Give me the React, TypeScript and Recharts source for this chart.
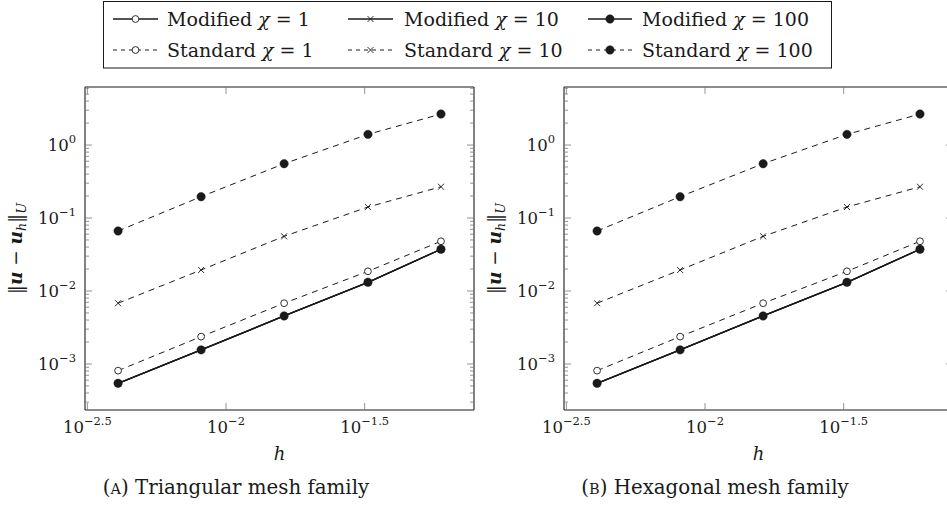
import { LineChart, Line, XAxis, YAxis } from 'recharts';

// mesh sizes (same for both panels)
const hValues = [0.00408, 0.00813, 0.0162, 0.0325, 0.0596];

// error norms ||u - u_h||_U
const modifiedChi1 = [0.000543, 0.00156, 0.00455, 0.01315, 0.0373];
const modifiedChi10 = [0.000543, 0.00156, 0.00455, 0.01315, 0.0373];
const modifiedChi100 = [0.000543, 0.00156, 0.00455, 0.01315, 0.0373];
const standardChi1 = [0.00081, 0.00237, 0.0068, 0.0186, 0.048];
const standardChi10 = [0.0068, 0.0194, 0.0561, 0.1415, 0.268];
const standardChi100 = [0.0664, 0.196, 0.555, 1.4, 2.66];

const chiValues = [1, 10, 100];
const methodNames = ['Modified', 'Standard'];

const xTickExponents = [-2.5, -2, -1.5];
const xTickLabels = ['−2.5', '−2', '−1.5'];
const yMajorExponents = [-3, -2, -1, 0];
const yTickLabels = ['−3', '−2', '−1', '0'];

const xDomain = [0.0031, 0.0784];
const yDomain = [0.000234, 6.24];

const INK = '#1a1a1a';
const TICK = '#777';
const SERIF = { fontFamily: "'DejaVu Serif', 'Liberation Serif', serif" };

const rows = hValues.map((h, i) => ({
  h,
  s1: standardChi1[i],
  s10: standardChi10[i],
  s100: standardChi100[i],
  m1: modifiedChi1[i],
  m10: modifiedChi10[i],
  m100: modifiedChi100[i],
}));

const xTicks = xTickExponents.map((e) => Math.pow(10, e));
const yTicks: number[] = yMajorExponents.map((e) => Math.pow(10, e));
for (let e = -4; e <= 0; e++) {
  for (let k = 2; k <= 9; k++) {
    const v = k * Math.pow(10, e);
    if (v > yDomain[0] && v < yDomain[1]) yTicks.push(v);
  }
}
yTicks.sort((a, b) => a - b);

type Marker = 'open' | 'cross' | 'filled';

function drawMarker(kind: Marker, cx: number, cy: number, key?: string) {
  if (kind === 'filled') {
    return <circle key={key} cx={cx} cy={cy} r={4.2} fill={INK} stroke={INK} strokeWidth={0.5} />;
  }
  if (kind === 'open') {
    return <circle key={key} cx={cx} cy={cy} r={3.4} fill="#fff" stroke={INK} strokeWidth={0.9} />;
  }
  const s = 3;
  return (
    <g key={key}>
      <line x1={cx - s} y1={cy - s} x2={cx + s} y2={cy + s} stroke={INK} strokeWidth={0.9} />
      <line x1={cx - s} y1={cy + s} x2={cx + s} y2={cy - s} stroke={INK} strokeWidth={0.9} />
    </g>
  );
}

const series: Array<{ key: string; marker: Marker; dashed: boolean }> = [
  { key: 's1', marker: 'open', dashed: true },
  { key: 's10', marker: 'cross', dashed: true },
  { key: 's100', marker: 'filled', dashed: true },
  { key: 'm1', marker: 'open', dashed: false },
  { key: 'm10', marker: 'cross', dashed: false },
  { key: 'm100', marker: 'filled', dashed: false },
];

const DASH = '6 5';

function isMajor(v: number) {
  const lg = Math.log10(v);
  return Math.abs(lg - Math.round(lg)) < 1e-6;
}

function yTick(side: 'left' | 'right') {
  return (p: any) => {
    const v = p.payload.value;
    const major = isMajor(v);
    const dir = side === 'left' ? 1 : -1;
    const len = major ? 7 : 4;
    const idx = yMajorExponents.indexOf(Math.round(Math.log10(v)));
    return (
      <g>
        <line x1={p.x} x2={p.x + dir * len} y1={p.y} y2={p.y} stroke={TICK} strokeWidth={0.8} />
        {major && side === 'left' && idx >= 0 && (
          <text x={p.x - 9} y={p.y + 6} textAnchor="end" style={SERIF} fontSize={16.5} fill={INK}>
            10
            <tspan dy={-8} fontSize={11.5}>
              {yTickLabels[idx]}
            </tspan>
          </text>
        )}
      </g>
    );
  };
}

function xTick(side: 'bottom' | 'top') {
  return (p: any) => {
    const dir = side === 'bottom' ? -1 : 1;
    return (
      <g>
        <line x1={p.x} x2={p.x} y1={p.y} y2={p.y + dir * 7} stroke={TICK} strokeWidth={0.8} />
        {side === 'bottom' && (
          <text x={p.x} y={p.y + 23} textAnchor="middle" style={SERIF} fontSize={16.5} fill={INK}>
            10
            <tspan dy={-8} fontSize={11.5}>
              {xTickLabels[p.index]}
            </tspan>
          </text>
        )}
      </g>
    );
  };
}

function Panel({ left, letter, title }: { left: number; letter: string; title: string }) {
  return (
    <div style={{ position: 'absolute', left, top: 0, width: 480, height: 508 }}>
      <LineChart width={480} height={508} data={rows} margin={{ top: 86, right: 0, bottom: 58, left: 0 }}>
        <XAxis
          dataKey="h"
          type="number"
          scale="log"
          domain={xDomain}
          allowDataOverflow
          ticks={xTicks}
          interval={0}
          height={40}
          tickSize={0}
          tickMargin={0}
          tickLine={false}
          axisLine={{ stroke: INK, strokeWidth: 1.1 }}
          tick={xTick('bottom')}
        />
        <XAxis
          xAxisId="top"
          orientation="top"
          dataKey="h"
          type="number"
          scale="log"
          domain={xDomain}
          allowDataOverflow
          ticks={xTicks}
          interval={0}
          height={1}
          tickSize={0}
          tickMargin={0}
          tickLine={false}
          axisLine={{ stroke: INK, strokeWidth: 1.1 }}
          tick={xTick('top')}
        />
        <YAxis
          type="number"
          scale="log"
          domain={yDomain}
          allowDataOverflow
          ticks={yTicks}
          interval={0}
          width={85}
          tickSize={0}
          tickMargin={0}
          tickLine={false}
          axisLine={{ stroke: INK, strokeWidth: 1.1 }}
          tick={yTick('left')}
        />
        <YAxis
          yAxisId="right"
          orientation="right"
          type="number"
          scale="log"
          domain={yDomain}
          allowDataOverflow
          ticks={yTicks}
          interval={0}
          width={6}
          tickSize={0}
          tickMargin={0}
          tickLine={false}
          axisLine={{ stroke: INK, strokeWidth: 1.1 }}
          tick={yTick('right')}
        />
        {series.map((s) => (
          <Line
            key={s.key}
            dataKey={s.key}
            type="linear"
            stroke={INK}
            strokeWidth={s.dashed ? 1 : 1.3}
            strokeDasharray={s.dashed ? DASH : undefined}
            isAnimationActive={false}
            activeDot={false}
            dot={(p: any) => drawMarker(s.marker, p.cx, p.cy, `${s.key}-${p.index}`)}
          />
        ))}
      </LineChart>
      <svg width={480} height={508} style={{ position: 'absolute', left: 0, top: 0, pointerEvents: 'none' }}>
        <text
          transform="translate(22,248.5) rotate(-90)"
          textAnchor="middle"
          style={SERIF}
          fontSize={18.5}
          fill={INK}
        >
          ‖<tspan fontWeight="bold" fontStyle="italic">u</tspan> − <tspan fontWeight="bold" fontStyle="italic">u</tspan>
          <tspan fontStyle="italic" fontSize={12.5} dy={4}>h</tspan>
          <tspan dy={-4}>‖</tspan>
          <tspan fontStyle="italic" fontSize={13} dy={4}>U</tspan>
        </text>
        <text x={279.5} y={460} textAnchor="middle" style={SERIF} fontStyle="italic" fontSize={18} fill={INK}>
          h
        </text>
        <text x={236} y={494} textAnchor="middle" style={SERIF} fontSize={19.8} fill={INK}>
          (<tspan fontSize={14.5}>{letter}</tspan>) {title}
        </text>
      </svg>
    </div>
  );
}

const legendCols = [
  { x1: 113, x2: 158, tx: 167 },
  { x1: 348, x2: 393, tx: 404 },
  { x1: 588, x2: 632, tx: 642 },
];
const legendRows = [19, 50];
const legendMarkers: Marker[] = ['open', 'cross', 'filled'];

function Legend() {
  return (
    <svg width={947} height={80} style={{ position: 'absolute', left: 0, top: 0 }}>
      <rect x={103.5} y={1.5} width={728} height={66.5} fill="#fff" stroke={INK} strokeWidth={1} />
      {methodNames.map((m, r) =>
        chiValues.map((chi, c) => {
          const col = legendCols[c];
          const y = legendRows[r];
          const cx = (col.x1 + col.x2) / 2;
          return (
            <g key={`${m}-${chi}`}>
              <line
                x1={col.x1}
                x2={col.x2}
                y1={y}
                y2={y}
                stroke={INK}
                strokeWidth={r === 0 ? 1.3 : 1}
                strokeDasharray={r === 1 ? '4 4' : undefined}
              />
              {drawMarker(legendMarkers[c], cx, y)}
              <text x={col.tx} y={y + 7} style={SERIF} fontSize={19} fill={INK}>
                {m} <tspan fontStyle="italic">χ</tspan> = {chi}
              </text>
            </g>
          );
        })
      )}
    </svg>
  );
}

export default function App() {
  return (
    <div
      style={{
        position: 'absolute',
        left: 0,
        top: 0,
        width: 947,
        height: 508,
        overflow: 'hidden',
        background: '#fff',
      }}
    >
      <Panel left={0} letter="A" title="Triangular mesh family" />
      <Panel left={479} letter="B" title="Hexagonal mesh family" />
      <Legend />
    </div>
  );
}
